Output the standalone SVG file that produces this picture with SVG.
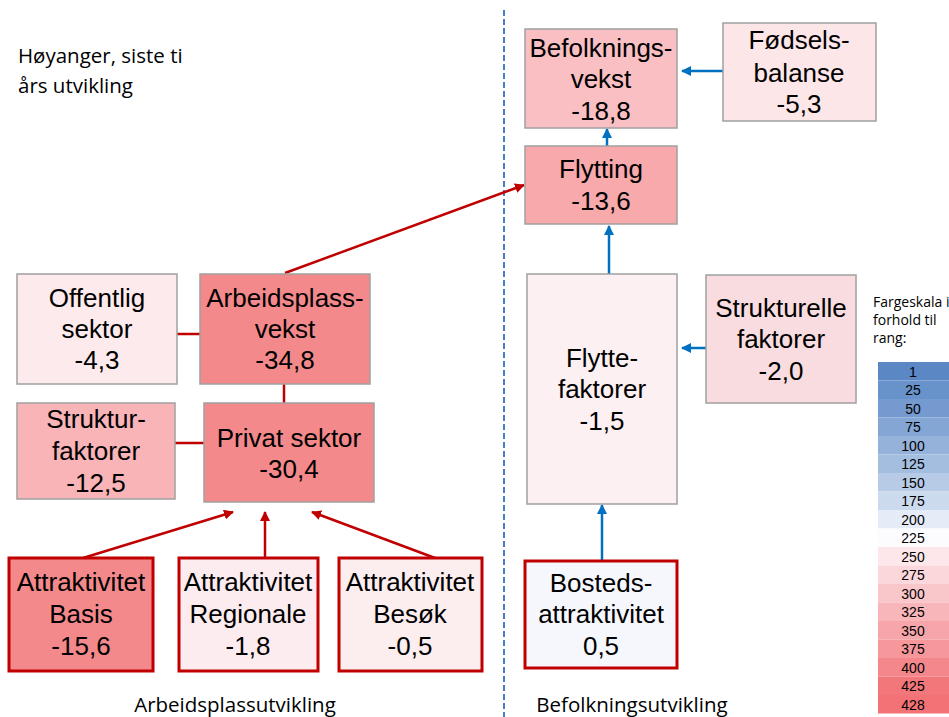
<svg xmlns="http://www.w3.org/2000/svg" width="949" height="717" viewBox="0 0 949 717">
<style>
.box{stroke:#A0A0A0;stroke-width:1.5}
.rbox{stroke:#C00000;stroke-width:3}
.t{font-family:"Liberation Sans",Arial,sans-serif;font-size:26px;fill:#000;text-anchor:middle}
.lbl{font-family:"Open Sans","Liberation Sans",sans-serif;font-size:20.5px;fill:#000}
.sc{font-family:"Liberation Sans",Arial,sans-serif;font-size:14px;fill:#000;text-anchor:middle}
.sl{font-family:"Open Sans","Liberation Sans",sans-serif;font-size:14px;fill:#000}
.red{stroke:#C00000;stroke-width:2.5;fill:none}
.blue{stroke:#0070C0;stroke-width:2.5;fill:none}
</style>
<defs>
<marker id="ar" viewBox="0 0 10 10" refX="9" refY="5" markerWidth="10" markerHeight="10" markerUnits="userSpaceOnUse" orient="auto"><path d="M0,0 L10,5 L0,10 z" fill="#C00000"/></marker>
<marker id="ab" viewBox="0 0 10 10" refX="9" refY="5" markerWidth="10" markerHeight="10" markerUnits="userSpaceOnUse" orient="auto"><path d="M0,0 L10,5 L0,10 z" fill="#0070C0"/></marker>
</defs>
<rect width="949" height="717" fill="#fff"/>

<text class="lbl" x="18" y="63">Høyanger, siste ti</text>
<text class="lbl" x="18" y="93">års utvikling</text>

<line x1="504" y1="10" x2="504" y2="717" stroke="#4A7CC0" stroke-width="2" stroke-dasharray="6,3"/>

<g id="connectors">
<line class="red" x1="285" y1="273" x2="524" y2="185" marker-end="url(#ar)"/>
<line class="red" x1="177" y1="334" x2="200" y2="334"/>
<line class="red" x1="284" y1="384" x2="284" y2="403"/>
<line class="red" x1="175" y1="443" x2="204" y2="443"/>
<line class="red" x1="83" y1="558" x2="233" y2="512" marker-end="url(#ar)"/>
<line class="red" x1="265" y1="558" x2="265" y2="512" marker-end="url(#ar)"/>
<line class="red" x1="435" y1="558" x2="312" y2="512" marker-end="url(#ar)"/>
<line class="blue" x1="723" y1="71" x2="682" y2="71" marker-end="url(#ab)"/>
<line class="blue" x1="607" y1="146" x2="607" y2="129" marker-end="url(#ab)"/>
<line class="blue" x1="609" y1="274" x2="609" y2="226" marker-end="url(#ab)"/>
<line class="blue" x1="706" y1="348" x2="682" y2="348" marker-end="url(#ab)"/>
<line class="blue" x1="602" y1="561" x2="602" y2="505" marker-end="url(#ab)"/>
</g>

<g id="befolkningsvekst">
<rect class="box" x="525" y="29" width="152" height="99" fill="#F9BFC2"/>
<text class="t" x="601" y="57">Befolknings-</text>
<text class="t" x="601" y="88">vekst</text>
<text class="t" x="601" y="120">-18,8</text>
</g>
<g id="fodselsbalanse">
<rect class="box" x="723" y="23" width="153" height="98" fill="#FCE6E8"/>
<text class="t" x="799" y="49">Fødsels-</text>
<text class="t" x="799" y="82">balanse</text>
<text class="t" x="799" y="113">-5,3</text>
</g>
<g id="flytting">
<rect class="box" x="525" y="146" width="152" height="78" fill="#F7A9AC"/>
<text class="t" x="601" y="178">Flytting</text>
<text class="t" x="601" y="210">-13,6</text>
</g>
<g id="offentlig">
<rect class="box" x="17" y="274" width="160" height="110" fill="#FCEAEC"/>
<text class="t" x="97" y="307">Offentlig</text>
<text class="t" x="97" y="338">sektor</text>
<text class="t" x="97" y="369">-4,3</text>
</g>
<g id="arbeidsplassvekst">
<rect class="box" x="200" y="274" width="170" height="110" fill="#F4898B"/>
<text class="t" x="285" y="307">Arbeidsplass-</text>
<text class="t" x="285" y="338">vekst</text>
<text class="t" x="285" y="369">-34,8</text>
</g>
<g id="strukturfaktorer">
<rect class="box" x="17" y="403" width="158" height="96" fill="#F8B4B7"/>
<text class="t" x="96" y="428">Struktur-</text>
<text class="t" x="96" y="460">faktorer</text>
<text class="t" x="96" y="492">-12,5</text>
</g>
<g id="privat">
<rect class="box" x="204" y="403" width="170" height="99" fill="#F4898B"/>
<text class="t" x="289" y="447">Privat sektor</text>
<text class="t" x="289" y="478">-30,4</text>
</g>
<g id="basis">
<rect class="rbox" x="9" y="558" width="144" height="113" fill="#F4898B"/>
<text class="t" x="81" y="591">Attraktivitet</text>
<text class="t" x="81" y="623">Basis</text>
<text class="t" x="81" y="655">-15,6</text>
</g>
<g id="regionale">
<rect class="rbox" x="179" y="558" width="139" height="113" fill="#FCECEF"/>
<text class="t" x="248" y="591">Attraktivitet</text>
<text class="t" x="248" y="623">Regionale</text>
<text class="t" x="248" y="655">-1,8</text>
</g>
<g id="besok">
<rect class="rbox" x="339" y="558" width="143" height="113" fill="#FCEDEF"/>
<text class="t" x="410" y="591">Attraktivitet</text>
<text class="t" x="410" y="623">Besøk</text>
<text class="t" x="410" y="655">-0,5</text>
</g>
<g id="flyttefaktorer">
<rect class="box" x="527" y="274" width="150" height="230" fill="#FCF0F2"/>
<text class="t" x="602" y="367">Flytte-</text>
<text class="t" x="602" y="398">faktorer</text>
<text class="t" x="602" y="430">-1,5</text>
</g>
<g id="strukturelle">
<rect class="box" x="706" y="275" width="150" height="128" fill="#F9DCDF"/>
<text class="t" x="781" y="317">Strukturelle</text>
<text class="t" x="781" y="348">faktorer</text>
<text class="t" x="781" y="380">-2,0</text>
</g>
<g id="bosteds">
<rect class="rbox" x="525" y="561" width="152" height="107" fill="#F6F7FD"/>
<text class="t" x="601" y="592">Bosteds-</text>
<text class="t" x="601" y="623">attraktivitet</text>
<text class="t" x="601" y="655">0,5</text>
</g>

<text class="lbl" x="235" y="712" text-anchor="middle">Arbeidsplassutvikling</text>
<text class="lbl" x="632" y="712" text-anchor="middle">Befolkningsutvikling</text>

<g id="fargeskala">
<text class="sl" x="873" y="307">Fargeskala i</text>
<text class="sl" x="873" y="325">forhold til</text>
<text class="sl" x="873" y="343">rang:</text>
<rect x="878" y="362" width="71" height="18.5" fill="#5B87C5"/>
<rect x="878" y="380.5" width="71" height="18.5" fill="#6892CA"/>
<rect x="878" y="399" width="71" height="18.5" fill="#759ACF"/>
<rect x="878" y="417.5" width="71" height="18.5" fill="#84A6D4"/>
<rect x="878" y="436" width="71" height="18.5" fill="#94B2DA"/>
<rect x="878" y="454.5" width="71" height="18.5" fill="#A4BEE0"/>
<rect x="878" y="473" width="71" height="18.5" fill="#B7CBE6"/>
<rect x="878" y="491.5" width="71" height="18.5" fill="#CCDAEE"/>
<rect x="878" y="510" width="71" height="18.5" fill="#E6ECF7"/>
<rect x="878" y="528.5" width="71" height="18.5" fill="#FCFCFF"/>
<rect x="878" y="547" width="71" height="18.5" fill="#FDE7EA"/>
<rect x="878" y="565.5" width="71" height="18.5" fill="#FBD7DB"/>
<rect x="878" y="584" width="71" height="18.5" fill="#F9C6CA"/>
<rect x="878" y="602.5" width="71" height="18.5" fill="#F8B6BA"/>
<rect x="878" y="621" width="71" height="18.5" fill="#F6A6AA"/>
<rect x="878" y="639.5" width="71" height="18.5" fill="#F5979B"/>
<rect x="878" y="658" width="71" height="18.5" fill="#F3878B"/>
<rect x="878" y="676.5" width="71" height="18.5" fill="#F2777B"/>
<rect x="878" y="695" width="71" height="18.5" fill="#F27276"/>
<text class="sc" x="913" y="376.5">1</text>
<text class="sc" x="913" y="395">25</text>
<text class="sc" x="913" y="413.5">50</text>
<text class="sc" x="913" y="432">75</text>
<text class="sc" x="913" y="450.5">100</text>
<text class="sc" x="913" y="469">125</text>
<text class="sc" x="913" y="487.5">150</text>
<text class="sc" x="913" y="506">175</text>
<text class="sc" x="913" y="524.5">200</text>
<text class="sc" x="913" y="543">225</text>
<text class="sc" x="913" y="561.5">250</text>
<text class="sc" x="913" y="580">275</text>
<text class="sc" x="913" y="598.5">300</text>
<text class="sc" x="913" y="617">325</text>
<text class="sc" x="913" y="635.5">350</text>
<text class="sc" x="913" y="654">375</text>
<text class="sc" x="913" y="672.5">400</text>
<text class="sc" x="913" y="691">425</text>
<text class="sc" x="913" y="709.5">428</text>
</g>
</svg>
